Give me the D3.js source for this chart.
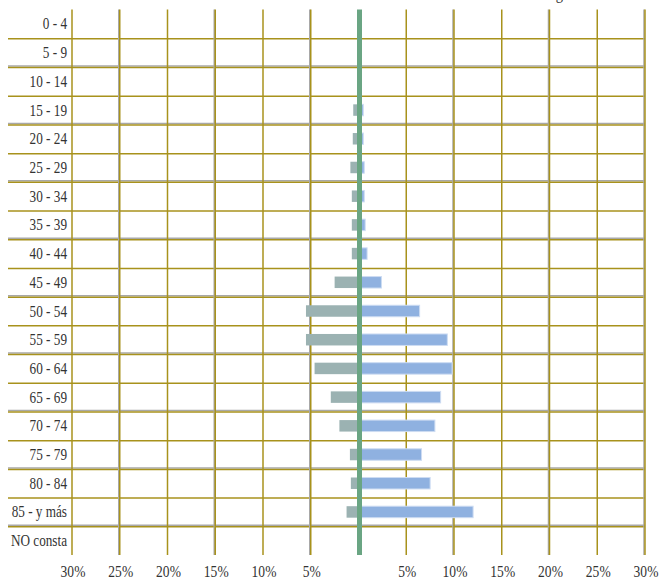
<!DOCTYPE html>
<html>
<head>
<meta charset="utf-8">
<script src="https://cdn.jsdelivr.net/npm/d3@7"></script>
<style>
  html, body { margin: 0; padding: 0; background: #fff; }
  svg { display: block; }
  text { font-family: "Liberation Serif", "DejaVu Serif", serif; fill: #333; }
</style>
</head>
<body>
<svg id="chart" width="660" height="582"></svg>
<script>
const ages = ["0 - 4","5 - 9","10 - 14","15 - 19","20 - 24","25 - 29","30 - 34","35 - 39","40 - 44","45 - 49","50 - 54","55 - 59","60 - 64","65 - 69","70 - 74","75 - 79","80 - 84","85 - y más","NO consta"];
const leftValues  = [0,0,0,0.55,0.6,0.85,0.7,0.7,0.7,2.5,5.5,5.5,4.6,2.9,2.0,0.9,0.8,1.25,0];
const rightValues = [0,0,0,0.5,0.5,0.6,0.6,0.7,0.9,2.4,6.4,9.3,9.8,8.6,8.0,6.6,7.5,12.0,0];
const tickValues = [-30,-25,-20,-15,-10,-5,5,10,15,20,25,30];
const tickLabels = ["30%","25%","20%","15%","10%","5%","5%","10%","15%","20%","25%","30%"];

const svg = d3.select("#chart");
const x = d3.scaleLinear().domain([-30, 30]).range([72, 645]);
const y = d3.scaleBand().domain(ages).range([9.6, 555]).paddingInner(0.6).paddingOuter(0.3);
const yRow = d3.scaleBand().domain(ages).range([9.6, 555]);

const olive = "#a8921c";
const gray = "#a8a8a8";

// partial title at top (cut off in the original)
svg.append("g").attr("transform", "translate(563,-1) scale(0.85,1)")
  .append("text").attr("text-anchor", "end")
  .style("font-size", "17px").text("g");

// horizontal grid lines
ages.slice(1).forEach((a, i) => {
  const yy = yRow(a);
  if (i % 2 === 1) {
    svg.append("line").attr("x1", 8).attr("x2", 645).attr("y1", yy - 1).attr("y2", yy - 1)
      .attr("stroke", gray).attr("stroke-width", 1.5);
  }
  svg.append("line").attr("x1", 8).attr("x2", 645).attr("y1", yy + 0.5).attr("y2", yy + 0.5)
    .attr("stroke", olive).attr("stroke-width", 1.5);
});

// vertical grid lines
tickValues.forEach((t, i) => {
  const xx = x(t);
  if (i % 2 === 1) {
    svg.append("line").attr("x1", xx - 1).attr("x2", xx - 1).attr("y1", 9.6).attr("y2", 555)
      .attr("stroke", gray).attr("stroke-width", 1.5);
  }
  svg.append("line").attr("x1", xx).attr("x2", xx).attr("y1", 9.6).attr("y2", 555)
    .attr("stroke", olive).attr("stroke-width", 1.5);
});

// left bars
svg.selectAll("rect.left").data(ages).enter().append("rect")
  .attr("class", "left")
  .attr("x", (d, i) => x(-leftValues[i]))
  .attr("y", d => y(d))
  .attr("width", (d, i) => x(0) - x(-leftValues[i]))
  .attr("height", y.bandwidth())
  .attr("fill", "#9bb2b2");

// right bars
svg.selectAll("rect.right").data(ages).enter().append("rect")
  .attr("class", "right")
  .attr("x", x(0))
  .attr("y", d => y(d))
  .attr("width", (d, i) => x(rightValues[i]) - x(0))
  .attr("height", y.bandwidth())
  .attr("fill", "#8fb1e0")
  .attr("stroke", (d, i) => rightValues[i] > 0 ? "#cddcf2" : "none")
  .attr("stroke-width", 1);

// center line
svg.append("line").attr("x1", x(0) + 1).attr("x2", x(0) + 1).attr("y1", 9.6).attr("y2", 555)
  .attr("stroke", "#6aa583").attr("stroke-width", 5);

// category labels (condensed serif)
svg.selectAll("g.cat").data(ages).enter().append("g")
  .attr("class", "cat")
  .attr("transform", d => `translate(67,${yRow(d) + yRow.bandwidth() / 2 + 5.5}) scale(0.8,1)`)
  .append("text")
  .attr("text-anchor", "end")
  .style("font-size", "16.5px")
  .text(d => d);

// x tick labels (condensed serif)
svg.selectAll("g.tick").data(tickValues).enter().append("g")
  .attr("class", "tick")
  .attr("transform", d => `translate(${x(d) + 1},577) scale(0.82,1)`)
  .append("text")
  .attr("text-anchor", "middle")
  .style("font-size", "16.5px")
  .text((d, i) => tickLabels[i]);
</script>
</body>
</html>
